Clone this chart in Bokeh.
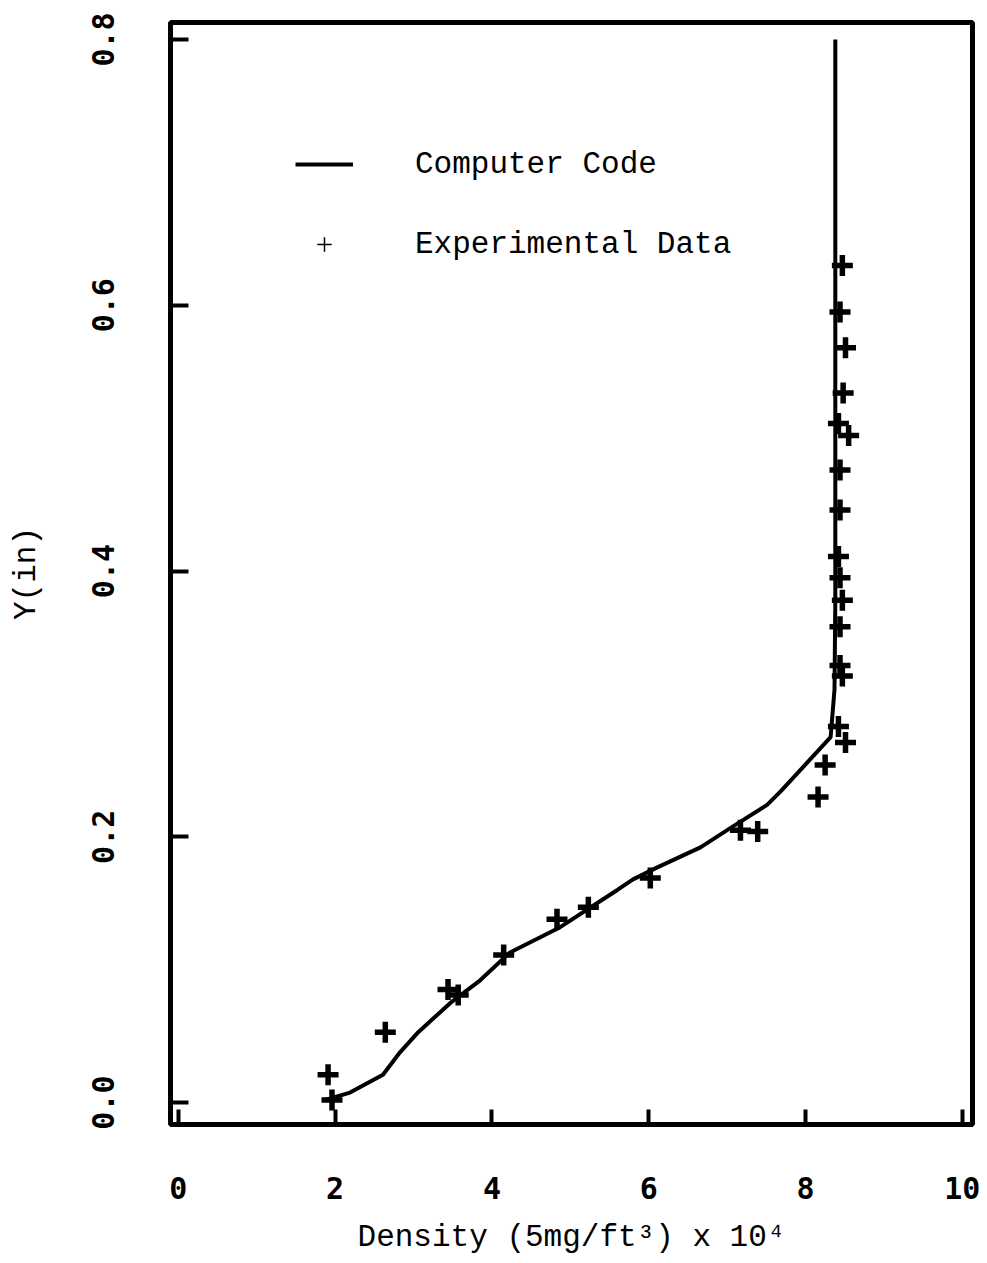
from bokeh.plotting import figure
from bokeh.models import Range1d, FixedTicker, Legend, LegendItem, PrintfTickFormatter
from bokeh.embed import file_html
from bokeh.resources import INLINE

# ---- data ----
x_ticks = [0, 2, 4, 6, 8, 10]
y_ticks = [0.0, 0.2, 0.4, 0.6, 0.8]

code_x = [1.875, 2.19, 2.61, 2.83, 3.06, 3.47, 3.85, 4.23, 4.87, 5.60, 5.80, 6.11,
          6.66, 7.08, 7.51, 7.68, 7.93, 8.32, 8.37, 8.38, 8.38]
code_y = [0.002, 0.0075, 0.021, 0.038, 0.053, 0.075, 0.092, 0.113, 0.132, 0.160, 0.168, 0.177,
          0.192, 0.208, 0.224, 0.234, 0.250, 0.275, 0.311, 0.378, 0.800]

exp_x = [8.47, 8.44, 8.51, 8.48, 8.42, 8.55, 8.44, 8.44, 8.42, 8.44, 8.47, 8.44,
         8.44, 8.47, 8.42, 8.51, 8.25, 8.16, 7.39, 7.17, 6.02, 5.23, 4.83, 4.15,
         3.44, 3.57, 2.64, 1.91, 1.96]
exp_y = [0.630, 0.595, 0.568, 0.534, 0.511, 0.502, 0.476, 0.446, 0.411, 0.395, 0.378, 0.358,
         0.329, 0.321, 0.283, 0.271, 0.254, 0.230, 0.204, 0.205, 0.169, 0.147, 0.138, 0.111,
         0.085, 0.081, 0.053, 0.021, 0.002]

legend_labels = ["Computer Code", "Experimental Data"]

label_font = "Liberation Mono"
tick_font = "DejaVu Sans Mono"

p = figure(width=983, height=1257,
           x_range=Range1d(-0.10, 10.13), y_range=Range1d(-0.0165, 0.8128),
           output_backend="svg", toolbar_location=None,
           min_border_left=170, min_border_right=11, min_border_top=22, min_border_bottom=132,
           background_fill_color="white", border_fill_color="white")

p.grid.visible = False
p.outline_line_color = "black"
p.outline_line_width = 5
p.outline_line_alpha = 1.0

p.xaxis.ticker = FixedTicker(ticks=x_ticks)
p.yaxis.ticker = FixedTicker(ticks=y_ticks)
p.yaxis.formatter = PrintfTickFormatter(format="%.1f")

for ax in (p.xaxis, p.yaxis):
    ax.axis_line_width = 5
    ax.axis_line_color = "black"
    ax.major_tick_out = 0
    ax.major_tick_line_width = 4
    ax.major_tick_line_color = "black"
    ax.minor_tick_line_color = None
    ax.major_label_text_font = tick_font
    ax.major_label_text_font_style = "bold"
    ax.major_label_text_font_size = "30px"
    ax.major_label_text_color = "black"
    ax.axis_label_text_font = label_font
    ax.axis_label_text_font_style = "normal"
    ax.axis_label_text_font_size = "31px"
    ax.axis_label_text_color = "black"

p.xaxis.major_tick_in = 15
p.yaxis.major_tick_in = 18
p.yaxis.major_label_orientation = "vertical"
p.xaxis.major_label_standoff = 52
p.yaxis.major_label_standoff = 56
p.xaxis.axis_label = "Density (5mg/ft\u00b3) x 10\u2074"
p.yaxis.axis_label = "Y(in)"
p.xaxis.axis_label_standoff = 18
p.yaxis.axis_label_standoff = 46

line_r = p.line(code_x, code_y, line_width=4, color="black")
p.scatter(exp_x, exp_y, marker="cross", size=21, line_width=5.5, color="black")
# legend-only key (a NaN point is never drawn in the plot area)
leg_r = p.scatter(x=[float("nan")], y=[float("nan")], marker="cross", size=14,
                  line_width=1.5, color="black")

legend = Legend(items=[LegendItem(label=legend_labels[0], renderers=[line_r]),
                       LegendItem(label=legend_labels[1], renderers=[leg_r])],
                location=(125, 862), glyph_width=58, glyph_height=36, label_height=36,
                label_standoff=62, spacing=44, padding=0, margin=0,
                border_line_color=None, background_fill_alpha=0,
                label_text_font=label_font, label_text_font_size="31px",
                label_text_color="black")
p.add_layout(legend)

open("out.html", "w").write(file_html(p, INLINE))
